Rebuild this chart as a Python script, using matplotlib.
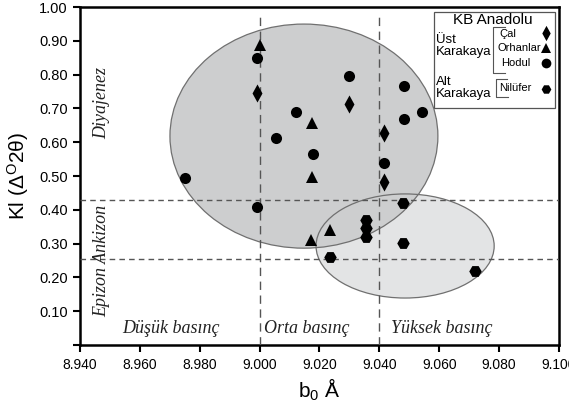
import matplotlib.pyplot as plt
from matplotlib.patches import Ellipse

plt.rcParams['mathtext.default'] = 'regular'

# b0 (Å) ve Kübler indeksi (Δ°2θ) değerleri
cal_b0 = [8.999, 9.030, 9.0417, 9.0417]
cal_ki = [0.746, 0.713, 0.628, 0.483]

orhanlar_b0 = [9.000, 9.0176, 9.0176, 9.0235, 9.017]
orhanlar_ki = [0.888, 0.656, 0.496, 0.340, 0.311]

hodul_b0 = [8.975, 8.999, 8.999, 9.012, 9.0055, 9.0177, 9.030, 9.0417, 9.0483, 9.0544, 9.0483]
hodul_ki = [0.494, 0.850, 0.409, 0.690, 0.612, 0.566, 0.795, 0.539, 0.767, 0.690, 0.668]

nilufer_b0 = [9.0357, 9.0357, 9.0357, 9.0235, 9.048, 9.048, 9.072]
nilufer_ki = [0.370, 0.345, 0.320, 0.260, 0.419, 0.301, 0.220]

x_ticks = [8.940, 8.960, 8.980, 9.000, 9.020, 9.040, 9.060, 9.080, 9.100]
y_ticks = [0.00, 0.10, 0.20, 0.30, 0.40, 0.50, 0.60, 0.70, 0.80, 0.90, 1.00]

# basınç ve metamorfizma sınırları
b0_limits = [9.000, 9.040]
ki_limits = [0.429, 0.255]

sans = ['Liberation Sans', 'DejaVu Sans']
serif = ['Liberation Serif', 'DejaVu Serif']

# ince baklava işareti (Çal)
thin_diamond = [(0, 1), (0.55, 0), (0, -1), (-0.55, 0), (0, 1)]

fig = plt.figure(figsize=(5.69, 4.07), dpi=100)
ax = fig.add_axes([0.1406, 0.1523, 0.8418, 0.8305])
ax.set_xlim(8.940, 9.100)
ax.set_ylim(0.0, 1.0)

# grup elipsleri
big = dict(xy=(9.0148, 0.618), width=0.0895, height=0.663)
small = dict(xy=(9.0486, 0.293), width=0.0595, height=0.308)
ax.add_patch(Ellipse(**small, facecolor='#e3e4e5', edgecolor='none', zorder=1))
ax.add_patch(Ellipse(**big, facecolor='#cdcecf', edgecolor='none', zorder=1))
ax.add_patch(Ellipse(**big, facecolor='none', edgecolor='#707070', lw=0.9, zorder=2))
ax.add_patch(Ellipse(**small, facecolor='none', edgecolor='#707070', lw=0.9, zorder=2))

for xv in b0_limits:
    ax.plot([xv, xv], [0.0, 0.985], color='#555555', lw=1.0,
            dashes=(6, 4), zorder=3)
for yv in ki_limits:
    ax.axhline(yv, color='#555555', lw=1.0, dashes=(4, 3), zorder=3)

ax.plot(cal_b0, cal_ki, marker=thin_diamond, ls='none', color='black', ms=13, mew=0, zorder=5)
ax.plot(orhanlar_b0, orhanlar_ki, '^', color='black', ms=9, mew=0, zorder=5)
ax.plot(hodul_b0, hodul_ki, 'o', color='black', ms=8, mew=0, zorder=5)
ax.plot(nilufer_b0, nilufer_ki, 'H', color='black', ms=9, mew=0, zorder=5)

ax.set_xticks(x_ticks)
ax.set_xticklabels([f'{v:.3f}' for v in x_ticks], family=sans, fontsize=10)
ax.set_yticks(y_ticks)
ax.set_yticklabels([''] + [f'{v:.2f}' for v in y_ticks[1:]], family=sans, fontsize=10.5)
ax.tick_params(direction='out', length=5, width=1.5, pad=4, colors='black')
for sp in ax.spines.values():
    sp.set_linewidth(1.8)

ax.set_xlabel(r'b$_0$ Å', family=sans, fontsize=15, labelpad=4)
ax.set_ylabel(r'Kl (Δ$^{O}$2θ)', family=sans, fontsize=15, labelpad=6)

# bölge etiketleri
it = dict(family=serif, style='italic', fontsize=13, color='#222222')
ax.text(8.9474, 0.715, 'Diyajenez', rotation=90, ha='center', va='center', **it)
ax.text(8.9474, 0.25, 'Epizon Ankizon', rotation=90, ha='center', va='center', **it)
ax.text(8.9703, 0.048, 'Düşük basınç', ha='center', va='center', **it)
ax.text(9.0158, 0.048, 'Orta basınç', ha='center', va='center', **it)
ax.text(9.0607, 0.048, 'Yüksek basınç', ha='center', va='center', **it)

# lejant kutusu (eksen koordinatları)
tr = ax.transAxes
ax.add_patch(plt.Rectangle((0.739, 0.701), 0.253, 0.284, transform=tr,
                           facecolor='white', edgecolor='#555555', lw=0.9, zorder=6))
lt = dict(transform=tr, family=sans, zorder=7, color='black')
ax.text(0.862, 0.962, 'KB Anadolu', ha='center', va='center', fontsize=11, **lt)
ax.text(0.743, 0.885, 'Üst\nKarakaya', ha='left', va='center', fontsize=9.5,
        linespacing=1.0, **lt)
ax.text(0.743, 0.760, 'Alt\nKarakaya', ha='left', va='center', fontsize=9.5,
        linespacing=1.0, **lt)
ax.text(0.875, 0.921, 'Çal', ha='left', va='center', fontsize=8, **lt)
ax.text(0.871, 0.879, 'Orhanlar', ha='left', va='center', fontsize=8, **lt)
ax.text(0.879, 0.834, 'Hodul', ha='left', va='center', fontsize=8, **lt)
ax.text(0.875, 0.760, 'Nilüfer', ha='left', va='center', fontsize=8, **lt)
ax.plot([0.887, 0.862, 0.862, 0.887], [0.941, 0.941, 0.805, 0.805], color='#555555',
        lw=0.8, transform=tr, zorder=7)
ax.plot([0.891, 0.868, 0.868, 0.893], [0.787, 0.787, 0.734, 0.734], color='#555555',
        lw=0.8, transform=tr, zorder=7)
mk = dict(color='black', mew=0, transform=tr, zorder=7, clip_on=False, ls='none')
ax.plot([0.973], [0.923], marker=thin_diamond, ms=11, **mk)
ax.plot([0.973], [0.879], '^', ms=7, **mk)
ax.plot([0.973], [0.834], 'o', ms=7, **mk)
ax.plot([0.973], [0.757], 'H', ms=7, **mk)

fig.savefig('out.png', dpi=100)
